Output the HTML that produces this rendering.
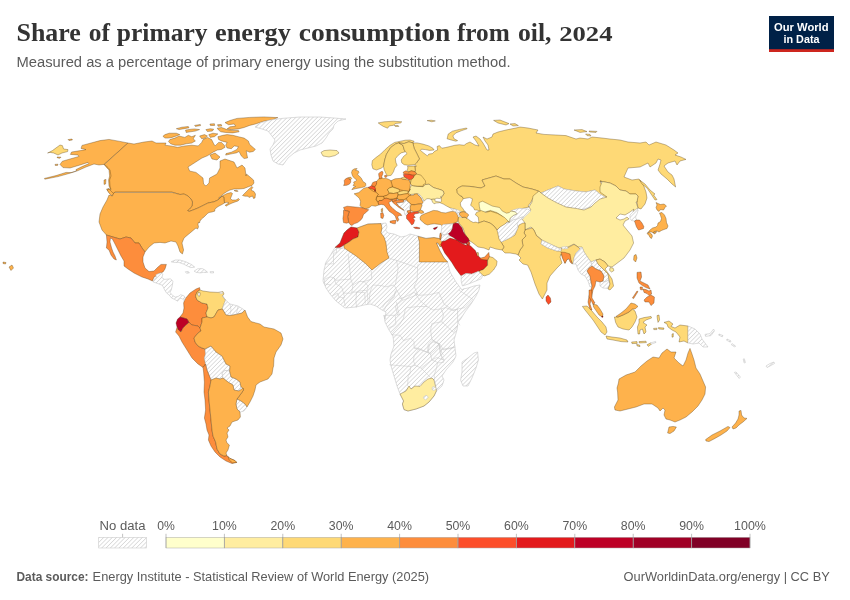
<!DOCTYPE html>
<html lang="en">
<head>
<meta charset="utf-8">
<title>Share of primary energy consumption from oil, 2024</title>
<style>
html,body{margin:0;padding:0;background:#fff;}
body{width:850px;height:600px;overflow:hidden;position:relative;font-family:"Liberation Sans",sans-serif;}
svg{position:absolute;left:0;top:0;display:block;}
.title{font-family:"Liberation Serif",serif;font-weight:bold;font-size:26px;fill:#333;}
.sub{font-size:14px;fill:#5b5b5b;}
.lg{font-size:12px;fill:#5b5b5b;}
.ft{font-size:13px;fill:#5b5b5b;}
.n{fill:url(#hatch);stroke:#c8c8c8;stroke-width:.5;stroke-linejoin:round;}
#map path{fill-rule:evenodd;stroke:rgba(70,45,10,.55);stroke-width:.6;stroke-linejoin:round;}
#map path.n{stroke:#c6c6c6;}
#map path.b{fill:none;stroke:#9a7a4a;stroke-width:.5;}
#map path.g{fill:none;stroke:#c6c6c6;stroke-width:.5;}
</style>
</head>
<body>
<svg width="850" height="600" viewBox="0 0 850 600">
<defs>
<pattern id="hatch" patternUnits="userSpaceOnUse" width="3.04" height="3.04" patternTransform="rotate(45)">
<rect width="3.04" height="3.04" fill="#fff"/>
<rect x="0" y="0" width="0.6" height="3.04" fill="#ccc"/>
</pattern>
</defs>
<rect width="850" height="600" fill="#fff"/>
<text class="title" y="40.5"><tspan x="16.5" textLength="64.3" lengthAdjust="spacingAndGlyphs">Share</tspan> <tspan x="88.8" textLength="21.2" lengthAdjust="spacingAndGlyphs">of</tspan> <tspan x="116.8" textLength="90.7" lengthAdjust="spacingAndGlyphs">primary</tspan> <tspan x="215.0" textLength="75.8" lengthAdjust="spacingAndGlyphs">energy</tspan> <tspan x="298.8" textLength="151.6" lengthAdjust="spacingAndGlyphs">consumption</tspan> <tspan x="456.9" textLength="52.9" lengthAdjust="spacingAndGlyphs">from</tspan> <tspan x="518.0" textLength="33.5" lengthAdjust="spacingAndGlyphs">oil,</tspan> <tspan x="559.2" textLength="53.3" lengthAdjust="spacingAndGlyphs" font-size="20">2024</tspan></text>
<text class="sub" x="16.5" y="66.5" textLength="494" lengthAdjust="spacingAndGlyphs">Measured as a percentage of primary energy using the substitution method.</text>
<g id="logo">
<rect x="769" y="16" width="65" height="36" fill="#002147"/>
<rect x="769" y="49.2" width="65" height="2.8" fill="#ce261e"/>
<text x="801.3" y="30.6" text-anchor="middle" font-weight="bold" font-size="11.3" fill="#fff" textLength="54.5" lengthAdjust="spacingAndGlyphs">Our World</text>
<text x="801.5" y="42.6" text-anchor="middle" font-weight="bold" font-size="11.3" fill="#fff" textLength="36" lengthAdjust="spacingAndGlyphs">in Data</text>
</g>
<g id="map">
<path fill="#feb24c" d="M128,143L120,141.4L109,139.4L100,140.6L91,143L82,145.4L81,148.4L86,149.6L80.4,150.6L71.6,152L70.4,154.4L78,155L79,156.4L70,159L62.4,161.2L60,164.4L63,167.6L70,168L80,165L88,162.4L89,163.6L82,166.6L76,169.6L76.4,171L71,172.6L66,172.4L56,175.6L44.4,178.4L44.8,179.2L58,176.6L70,173.2L78,170.6L86,167L94,164L99,165L104,164.4L107,168L109,170L109.6,176L108.6,180L109,186L110.4,189L112.4,190.4L112,187L111.6,182L114.4,177L114,170L112,167.6L108,166.4L104,164.4Z"/>
<path fill="#feb24c" d="M68,139.6L72,139L72.4,140L69,140.6Z"/>
<path fill="#feb24c" d="M57,157L61,157.2L60,158.2L57.6,158Z"/>
<path fill="#feb24c" d="M55,164.4L58,164.2L57.6,165.4L55.2,165.4Z"/>
<path fill="#fed976" d="M47.6,153L52.4,150.6L60,145L62.4,145.6L63.6,149L68,149.6L67.6,151.6L62,153L58,155L53.6,153L50,152.4Z"/>
<path fill="#feb24c" d="M128,143L134,144L144,142L152,141L156,143L166,143L165,145.2L170.6,145.9L177.7,147.3L184.8,145.9L191.8,145.2L198.2,145.9L201.7,142.4L203.1,139.5L207.4,137.4L211.6,139.5L213.7,143.8L215.1,145.9L218.6,142.4L221.5,142.4L224.3,145.2L225,147.3L221.5,149.4L217.2,150.1L213,152.2L207.4,155.8L202,158L188,167L189.6,171L196,172.4L203,178L203.6,184L206,186L209,183L209.6,178L217,174L220,168L220,161L225,159L234,162L237,168L242,165L245,168L246,176L246.5,174L250,177L253.5,180L254,183L252,185.5L249,186.5L244,188.5L239,189L234,189L230,190L227,191.5L224,193.5L221,196L218.5,198.2L220,197.7L223,195.5L227,193.5L231,192.5L232.5,193.5L231.5,196L230.5,198.5L232,200L236,200L238.5,198.5L239.5,199.5L238,201L235,202L231,203.5L228,205L226,206.2L225.2,205.2L227,204L229,203L227,202.2L224.5,203L224,200L223.8,197L222,196.2L220,198L218,200L214,201.8L208,203L203,205.5L198,208L193,210L189,211.5L187.5,210.5L189.5,209L192,206L192.5,202L191,199L188,196L184,194L180,194.5L172,192L115,192L113.6,194L110,193.6L107,190L108,188.4L111,189.6L110,186L109.6,180L111,176L110,170L108,167.6L104.4,164.4Z"/>
<path fill="#feb24c" d="M234,190.5L236.5,190.3L238.2,191.2L236,191.4Z"/>
<path fill="#feb24c" d="M106.6,189L109.6,189.6L113.6,193.6L112,196L109,193Z"/>
<path fill="#feb24c" d="M104,180L106,179.4L105.6,184L104,184.4Z"/>
<path fill="#feb24c" d="M242.5,195.5L246,192L249,189L252,186.5L252.8,187.5L251,190L254,191.5L255.5,194L255,198L253.5,198.5L252.5,196L250,197L249,197.5L248,196.2L245,196.2Z"/>
<path fill="#feb24c" d="M225,122.6L229.9,120.5L237,118.4L249.7,117.4L263.8,116.9L277.9,117.6L272.3,119.8L263.8,121.2L255.4,124L249.7,125.4L244.1,127.5L238.4,128.9L231.4,129.6L227.1,128.9L229.9,126.8L235.6,126.1L234.2,124L228.5,124.7Z"/>
<path fill="#feb24c" d="M217.2,128.2L221.5,127.5L227.1,129.6L232.8,130.4L238.4,130.4L239.1,131.8L232.8,132.9L225.7,132.5L220.8,131.8L218.6,130.1Z"/>
<path fill="#feb24c" d="M205.9,129.6L210.2,128.7L213.7,129.2L212.3,131.1L207.4,131.5Z"/>
<path fill="#feb24c" d="M209.9,124L214.4,123.7L214.7,125.4L210.5,125.6Z"/>
<path fill="#feb24c" d="M217.5,124.7L221.2,124.4L221.8,126.1L218.1,126.3Z"/>
<path fill="#feb24c" d="M185.5,130.1L191.1,129.2L194.6,128.9L199.6,129.6L195.4,131.1L190.4,131.8L186.2,132.5Z"/>
<path fill="#feb24c" d="M176.3,128.7L181.9,127.2L188.3,126.5L189,127.8L184.1,128.7L179.1,129.6Z"/>
<path fill="#feb24c" d="M194.6,125.4L200.3,124.4L200.6,125.6L195.4,126.4Z"/>
<path fill="#feb24c" d="M165,134.6L169.2,133.2L176.3,133.2L179.8,134.6L176.3,136L172.1,137.4L167.8,138.1L165,138.1L162.9,136.3Z"/>
<path fill="#feb24c" d="M169.9,139.5L174.9,138.1L179.1,136L184.8,137.4L188.3,135.3L191.8,136.7L195.4,135.3L193.2,138.8L195.4,140.9L191.8,143.1L186.2,143.8L180.5,145.2L174.9,145.2L170.6,143.8L168.5,141.6Z"/>
<path fill="#feb24c" d="M199.6,136L204.5,134.6L207.4,136L205.2,138.1L201.7,138.8Z"/>
<path fill="#feb24c" d="M208.8,134.6L213,133.2L217.9,133.9L214.4,136.7L210.2,137.4Z"/>
<path fill="#feb24c" d="M217.9,136.7L222.9,135.3L227.1,134.6L232.8,135.3L238.4,136.7L244.1,138.1L248.3,140.9L249.7,144.5L255.4,149.4L253.2,151.5L249.7,152.2L246.2,150.8L246.9,154.4L247.6,157.9L244.1,158.6L241.2,155.8L239.1,151.5L236.3,152.9L232.8,153.6L225.7,155.1L226,153.6L231.4,152.2L237,149.4L238.4,146.6L234.2,145.9L231.4,148.7L227.1,148L225.7,145.2L227.1,142.4L221.5,140.9L218.6,139.5Z"/>
<path fill="#feb24c" d="M210,155L215,153L220,157L217,160L212,159Z"/>
<path fill="#feb24c" d="M114,192.4L172,192.4L180,194.5L184,194L188,196L191,199L192.5,202L192,206L189.5,209L187.5,210.5L189,211.5L193,210L198,208L203,205.5L208,203L214,201.8L218,200L220,198L222,196.2L223.8,197L224,200L224.5,203L222,204.5L219,206L216,208L214.5,210L215,211L212,212L209,212.5L207.5,213.5L206,215L204,217L201.5,219L200,221L199.5,223L198.5,222L198,224.5L198.5,227L197.5,229L196,228L190,233L184,238L182,243L183.6,250L182.4,254L180,252L178,246L176,242L171,241L165,243L160,242.4L154,243L149,247L145,252L142,248L139,243L135,243L131,238L126,237L120,239L113,237L106.4,235L102,230L99,222L100,214L103,207L107,200L109,195L112.4,196Z"/>
<path fill="#fd8d3c" d="M106.4,235L113,237L120,239L126,237L131,238L135,243L139,243L142,248L145,252L143,257L143,262L145,268L149,271.6L154,271L158,267L161,264.4L166.4,264.4L165,269L163,272L160,273L158,274L156,276L154,277L152.4,281L148,279L142,277L134,273L128,269L124,266L124,261L121,256L118,250L115,244L112.4,239L110.4,238L110,242L111.6,248L113,252L115,256L116.4,260L114,259L111,255L109,250L106.4,248L107,242Z"/>
<path class="n" d="M255,127L260,123L270,120L282,118.4L300,117L320,117L334,118L346,119L338,121L334,125L333,129L329,133L326,138L322,143L316,146L308,148L300,150L294,153L288,158L283,165L278,164L273,161L271,155L270,149L273,145L275,140L272,136L268,131L262,129Z"/>
<path fill="#ffeda0" d="M321,152.4L324,150.6L330,150L337,150.6L339,153L335,155.6L329,157L323,156Z"/>
<path fill="#fd8d3c" d="M185,299L190,293L196,289L199.6,287.6L200,290L197,292L195.6,296L197,300L202,303L207,304L208,308L206,313L207,317L202,318L202,322L200,328L198,326L192,325L189,322.4L187,319L182,317.6L180,317L183,313L184,308L183.6,303Z"/>
<path fill="#fed976" d="M200,290L203,291L210,292L218,292.4L223,291.6L224,294L222.4,296L225.6,300L223.6,305L222.4,309L218,310L214,317L211,318L207,317L206,313L208,308L207,304L202,303L197,300L195.6,296L197,292ZM198.2,292.4L200.2,292.8L200,295.6L198.8,296.4L197.8,294.8Z"/>
<path fill="#bd0026" d="M180,317L182,317.6L187,319L189,322.4L186,325L183,328L181,332L178.4,330L177,327L176,323L177.6,319Z"/>
<path fill="#fd8d3c" d="M177,327.6L175.6,332L179,336L182,342L187,350L192,358L198,364L203,367.4L205.6,364L204.4,358L205.6,354L205,349L202,348L198,346L195,342L194,338L198,333L201,331L200,328L198,326L192,325L189,322.4L186,325L183,328L181,332L178.4,330Z"/>
<path class="n" d="M222.4,296L225.6,300L230,304L238,306L244.4,310L242,313L236,314.4L230,315.6L226,315L222.4,309L223.6,305L225.6,300Z"/>
<path class="n" d="M205,349L211,346L216,352L222,356L226,364L230,366L230,366L229.6,371L225,370.4L222,373L223,378L220,379L216,378L211,380L209,375L207,370L205.6,364L205.6,364L204.4,358L205.6,354Z"/>
<path class="n" d="M222,373L225,370.4L229.6,371L231,377L236,379L240,382L241,387L239,391L234,390L233,385L228,382L223,378Z"/>
<path class="n" d="M237,399L241,401L245,404L247,407L244,411L240,412L237,409L236,404Z"/>
<path fill="#feb24c" d="M202,318L207,317L211,318L214,317L218,310L222.4,309L226,315L230,315.6L236,314.4L242,313L245,310L247.6,317L251,321.6L260,324L264,327L274,329L281,333L283,339L281,345L276,352L274,358L273.6,366L273,368L272,374L268,379L260,382L256,385L255,390L253,396L250,402L247,407L245,404L241,401L237,399L240,395L243.6,390L243,388L241,387L240,382L236,379L231,377L229.6,371L230,366L230,366L226,364L222,356L216,352L211,346L205,349L202,348L198,346L195,342L194,338L198,333L201,331L200,328L202,322Z"/>
<path fill="#fd8d3c" d="M203,367.4L205.6,364L207,370L209,375L211,380L210,386L208.4,392L209,400L210,410L211,420L212,430L213,436L215.6,442L217,449L220,454L224,456L227,455.6L229,458L234,460L237,462.4L232,463.6L226,461L220,457L215,452L211,446L208.4,440L209,435L207,430L206,424L204.4,418L205.6,410L205,400L204,392L204.4,382L203.6,372Z"/>
<path fill="#feb24c" d="M211,380L216,378L220,379L223,378L228,382L233,385L234,390L239,391L243,388L243.6,390L240,395L237,399L236,404L237,409L240,412L240.4,417L238,420L232,422L230,426L227,428L229,430L227,433L228,437L226,440L227,443L229.4,445L228,450L226,453L227,455.6L224,456L220,454L217,449L215.6,442L213,436L212,430L211,420L210,410L209,400L208.4,392L210,386Z"/>
<path fill="#feb24c" d="M228,456.4L230,458.4L235,460.6L236.6,462.4L232.4,462.8L229.2,460Z"/>
<path class="n" d="M155.9,274.7L160.6,272.9L162.9,274.1L161.8,277.6L164.7,279.4L170.6,278.8L172.9,281.2L172.4,285.3L171.2,290L170,292.4L172.4,295.3L175.3,297.1L178.2,296.5L180.6,294.7L184.1,295.9L185.3,298.2L184.1,300.6L182.4,298.8L180,298.2L177.6,301.2L174.7,299.4L171.8,298.2L169.4,295.3L166.5,292.9L164.7,290L162.4,285.3L157.6,283.5L152.9,281.8L154.1,279.4L156.5,277.6Z"/>
<path class="n" d="M171.2,261.8L175.3,260L180,260L185.9,261.8L191.8,264.7L194.7,267.1L190.6,267.6L187.1,265.9L183.5,264.1L178.8,262.4L174.1,262.4Z"/>
<path class="n" d="M194.1,271.2L197.6,268.8L202.4,268.6L205.9,270.6L207.6,272.4L203.5,272.4L200,272.9L196.5,272.4Z"/>
<path class="n" d="M185.3,271.8L188.2,271.4L189.4,272.9L186.5,273.2Z"/>
<path class="n" d="M210,271.8L213.5,271.5L213.5,272.9L210.4,272.9Z"/>
<path class="n" d="M219.8,292.4L222.4,292L222.6,293.5L220,293.8Z"/>
<path class="n" d="M351,227L357,228L368,224L381,223.6L386,223L387,227L385.6,230L388,233L394,234L401,237L406,236L410,234L418,236L426,238.4L434,237.6L439.6,238.6L441.6,240L442.4,244.4L440.4,247L438,243L436.4,243L440,251L444,258L447.6,262L450,272L456,282L462,290L463,289L468,288L474,286L480,285L479,290L476,296L471,304L465,312L460,320L458,322L457,330L454,340L455,348L456,356L453,362L446,370L442,376L444,380L442,386L436.4,391L434,396L429,402L424,406L416,409L408,411L404,409.6L402.4,404L403.6,401L400,394L397,386L394,376L391,366L390,360L391,354L394,346L393,336L389,330L385,322L384,315L385,319L386,312L382,310L376,306L370,304L364,305L356,307L345,308L336,301L330,294L326,288L323,281L324,270L326,262L330,256L335,247.4L340,243L342,238L344,233L347,230Z"/>
<path class="n" d="M462,362L468,358L474,353L477.6,352L478.4,360L476,368L472,378L468,386L463,386L460.6,380L462,372Z"/>
<path fill="#e31a1c" d="M351,227L357,228L359,232L358,237L353,239L349,242L344,245L340,247.4L335,247.4L340,243L342,238L344,233L347,230Z"/>
<path fill="#feb24c" d="M357,228L368,224L381,223.6L382,228L381,233L384,237L386,243L387,252L389,258L381,263L372,270L366,264L356,256L344,248L344,245L349,242L353,239L358,237L359,232Z"/>
<path fill="#feb24c" d="M418,236.4L426,238.4L434,237.6L439.6,238.6L441.6,240L442.4,244.4L440.4,247L438,243L436.4,243L440,251L444,258L447.6,262L419.4,262L419.4,242Z"/>
<path fill="#ffeda0" d="M400,394L406,391L409,386L411,389L415,386L420,386.4L424,382L428,379L432,378L434,380L435.6,386L436.4,391L434,396L429,402L424,406L416,409L408,411L404,409.6L402.4,404L403.6,401Z"/>
<path class="n" d="M423,397.6L426,395.2L428.4,397L425.6,400Z"/>
<path class="n" d="M432,387.6L434,386.4L436,388.4L434.4,390.4L432.4,390Z"/>
<path fill="#feb24c" d="M363.5,192.1L375.3,183.8L391.8,181.5L405.9,180.3L410.6,188.5L410.6,195.6L416.5,209.7L410.6,209.7L405.9,200.3L396.5,199.1L387.1,200.3L378.8,203.8L369.4,205L363.5,200.3Z"/>
<path fill="#fed976" d="M412.9,142.9L417.1,142.9L422.9,144.1L428.8,145.9L432.9,148.2L434.1,150L429.4,150.4L425.3,149.6L421.5,149.2L420.4,150.4L423.9,153.2L427.4,155.9L428.8,154.1L432.4,153.6L434.9,151.1L437.6,150L437.1,146.5L439.4,145.6L441.8,148.2L445.3,147.6L450,146.5L454.7,145.3L459.4,144.7L464.1,145.3L466.5,143.5L470,142L475,145L479,146L476,141L473,137L476,136L480,139L483,143L487,150L489,150L488,145L485,141L483,137L487,139L492,137L493,134L498,132L506,130L516,128L520,127L528,128L538,130L536,133L544,134.4L556,135L566,135.6L576,139L580,138L588,139L592,137L602,138L610,139L620,140L628,142L640,143L646,142L649,145L656,142L666,145L674,150L678,153L675,155L681,157L686,159.4L680,161L677,165L675,161L668,163L664,166L668,172L672,175L674,179L675.6,187L672,184L667,179L661,174L658,170L660,164L661,160L658,159L656,163L650,167L648,163L640,167L628,168L624,177L632,180L639,179L643,184L646,192L647,198L645,204L641,209L638,208L637,202L638,196L636,194L630,194L626,191L620,190L616,186L610,183L600,181L607,198L600,194L595,190L586,192L576,191L564,189L558,186L548,190L541,193L538.4,191L532,189L523,187L516,183L510,179L504,179L496,176L489,178L482,180L485,186L481,188L470,186.4L462,186L458,188L456.9,189.2L457.3,192.7L459.4,195.2L462.2,196.6L463.3,198.7L462.2,200.5L460.3,202.9L460.8,206.1L462.6,208.2L464.4,211.1L465.8,212.1L462.2,211.8L459.4,212.8L458,211.1L456.6,209.6L453.8,208.9L450.2,207.9L446.7,206.1L443.2,204L440,202.7L441.1,201.5L441.4,200.5L441.1,198L442.5,195.9L443.9,193.8L443.5,191.3L441.1,189.9L437.5,188.8L434,187.8L431.2,186L429.1,184.2L425.2,184.6L423.1,186.7L416.5,186.2L410.6,183.8L409.4,179.1L408.8,175.3L408.8,167.1L416.5,166.1L414.7,164.5L416.5,162.9L419.4,158.8L417.1,154.1L414.1,148.2Z"/>
<path fill="#fed976" d="M447.1,138.8L448.2,134.1L452.4,131.2L459.4,129.4L466.5,128L467.1,128.8L461.8,130.6L455.9,132.9L452.9,135.9L454.1,138.8L457.6,140.6L455.9,141.2L451.2,140Z"/>
<path fill="#fed976" d="M493.6,120.4L500,120L509,123.6L506,125L498,123Z"/>
<path fill="#fed976" d="M510,124L515,123.6L518.4,125.6L513,126Z"/>
<path fill="#fed976" d="M574,130L582,129.6L587,131.6L580,132.4Z"/>
<path fill="#fed976" d="M589,131L597,131.4L596,132.4L589.6,132Z"/>
<path fill="#fed976" d="M585.6,134L590,134.4L591,136L587,135.6Z"/>
<path fill="#fed976" d="M639.6,180L645,184L650,190L655,194L653.6,195L657,199.6L655,200L651,194L647,188L642,184Z"/>
<path fill="#fed976" d="M427.1,120.6L431.2,120.2L435.3,120.9L431.8,121.8Z"/>
<path fill="#fed976" d="M401.2,177.9L404.2,176.9L406.7,178.3L405.8,179.6L402.1,179.2Z"/>
<path fill="#fed976" d="M372.9,168.8L376.5,170L381.2,168.2L383.5,166.5L384.7,160L386.5,154.1L390.6,147.6L395.3,144.1L398.8,142.9L404.1,143.5L408.8,141.8L412.9,142.9L414.1,141.2L410,140L405.3,140.2L400.6,141.2L394.7,142.4L390,145.3L385.3,149.4L380.6,154.1L375.9,157.6L372.4,160.6L371.8,164.7Z"/>
<path fill="#fed976" d="M383.5,166.5L384.1,169.4L385.9,173.5L387.6,175.9L391.2,175.3L393.5,171.8L394.7,168.2L397.1,165.3L395.9,162.4L395.3,158.8L398.2,155.3L401.2,152.9L405.3,151.8L404.1,149.4L402.9,145.3L398.8,142.9L395.3,144.1L390.6,147.6L386.5,154.1L384.7,160Z"/>
<path fill="#fed976" d="M398.8,142.9L404.1,143.5L408.8,141.8L412.9,142.9L414.1,148.2L417.1,154.1L419.4,158.8L416.5,162.9L414.7,164.5L408.2,165.3L404.1,164.7L401.8,162.9L401.2,160L403.5,156.5L407.1,153.5L405.3,151.8L404.1,149.4L402.9,145.3Z"/>
<path fill="#fed976" d="M378.2,122.9L384.1,121.8L393.5,121.2L401.8,121.8L400.6,122.9L395.3,123.5L393.5,125.3L389.4,125.9L387.6,128.2L383.5,126.5L380.6,124.7Z"/>
<path fill="#fed976" d="M394.1,125.3L398.2,125.5L398.8,126.5L395.3,126.5Z"/>
<path fill="#fd8d3c" d="M384.5,175.6L386.2,175.1L387.1,176.2L386.2,177.4L384.8,177.1Z"/>
<path fill="#fed976" d="M407.5,166.2L415,166L415.4,170.8L415,171.7L411.2,170.8L408.8,172.1L407.1,170.4L407.9,167.9Z"/>
<path fill="#fd8d3c" d="M403.3,172.1L405.8,170.8L408.8,172.1L411.2,170.8L415,171.7L416.7,173.8L415,175L412.1,175.2L409.2,174.3L405,174.2L403.3,173.3Z"/>
<path fill="#fc4e2a" d="M403.3,174.6L405,174.2L409.2,174.3L412.1,175.2L414.6,175.4L413.3,177.9L411.2,179.6L408.8,179.8L406.7,178.3L404.2,176.8Z"/>
<path fill="#ffeda0" d="M408.8,191.7L410,187.5L411.7,185.4L414.2,186L417.8,186.4L423.1,186.7L425.2,184.6L429.1,184.2L431.2,186L434,187.8L437.5,188.8L441.1,189.9L443.5,191.3L443.9,193.8L442.5,195.9L440.4,196.9L441.4,197.6L439.6,198.5L436.8,198.2L434.8,199.2L431.2,199.4L429.1,198.7L426.9,198.7L425.2,200.1L423.8,201.2L423.1,199.4L421.3,196.6L419.2,194.5L417.4,193.8L414.2,194.1L410,194.5L408.8,193.2L408.2,191.1L410.6,189.1Z"/>
<path fill="#ffeda0" d="M431.2,199.4L434.7,199.1L435.1,201.2L437.9,201.7L440,202L439.6,202.7L436.1,203L434,203.8L432.6,202.2L431.9,200.5Z"/>
<path fill="#fed976" d="M414.6,175.4L416.7,174.2L420.8,175L422.9,177.5L425.4,180.8L425.8,183.3L423.3,184.6L423.3,186.2L417.5,186.2L411.7,185.4L410.4,183.3L411.2,180L413.3,177.9Z"/>
<path class="n" d="M417.4,193.8L419.2,194.5L421.3,196.6L423.1,199.4L423.8,201.2L422.4,201.2L421.6,199.1L419.9,196.6L418.1,195.2Z"/>
<path fill="#feb24c" d="M390.8,180.8L395,178.8L401.2,178.3L402.1,179.2L405.8,179.6L408.8,179.8L410.4,183.3L410,187.5L408.8,191.7L405,190.8L400.8,190L397.9,188.8L392.5,186.7L391.2,183.3Z"/>
<path fill="#feb24c" d="M376.5,181.5L378,179.7L379.2,178.2L381.8,177.6L383.3,178.6L385.1,178.2L388,179L390.6,180.3L391.8,183.8L392.4,187L389.4,187.9L387.6,189.7L389.4,193.2L387.1,195.2L383.5,196.4L378.8,196.4L376.5,197L378.2,194.4L375.9,192.1L375.3,190.3L374.1,187.9L375.3,185.6L376.5,183.2Z"/>
<path fill="#fd8d3c" d="M378.6,173.8L379.8,172.4L382.1,171.2L383,172.1L382.7,174.4L381.8,176.2L381.8,178.4L379.6,178.9L378.9,176.2Z"/>
<path fill="#fed976" d="M387.6,189.7L389.4,187.9L392.4,187.1L395.3,188.1L398.8,189.2L400,191.4L397.6,192.6L393.5,193.5L390.6,192.8L389.4,193.2Z"/>
<path fill="#fed976" d="M397.6,192.6L400,191.4L403.5,190.6L408.2,191.1L407.6,193.5L404.1,194.1L400,194.9L398.2,194.6Z"/>
<path fill="#feb24c" d="M383.5,196.4L387.1,195.2L389.4,193.4L393.5,193.5L397.6,192.8L397.9,195.1L397.1,197.9L393.5,198.9L389.4,199.2L386.5,198.1L384.1,198.4Z"/>
<path fill="#feb24c" d="M376.5,197L378.8,196.4L383.5,196.4L384.1,198.4L382.1,200.5L379.4,200.5L377.9,202.4L376.5,199.7Z"/>
<path fill="#feb24c" d="M397.9,195.1L400,194.9L404.1,194.1L407.6,193.6L409.4,195.6L406.5,198.2L403.5,199.9L399.4,199.9L397.1,198.2Z"/>
<path class="n" d="M396.5,202.6L400,202.4L403.5,202.1L406.5,200.3L409.4,202.6L410.6,205.6L410,207.9L410.6,210.3L407.1,210.9L408.2,213.5L406.5,215.6L404.7,214.4L404.1,210.3L401.2,207.9L397.6,205Z"/>
<path fill="#feb24c" d="M406.5,198.2L409.4,195.6L414.1,195L414.2,194.1L417.4,193.8L418.1,195.2L419.9,196.6L421.6,199.1L422.4,201.2L423.1,201.9L422.7,203.3L421.6,203.6L418.5,204L414.2,204.7L411.8,204.6L409.4,202.6L407.1,200.9Z"/>
<path fill="#feb24c" d="M410.6,205.6L411.8,204.6L414.2,204.8L418.5,204.1L421.6,203.8L422.1,205.4L421.3,207.5L420.6,209.6L418.5,211.1L415.6,211.8L413.5,211.7L410.6,210.5L410,207.9Z"/>
<path fill="#fd8d3c" d="M407.1,210.9L410.4,210.3L411.2,212.6L408.2,213.5Z"/>
<path fill="#fc4e2a" d="M406.5,215.6L408.2,213.5L411.2,212.4L414.1,212.1L418.2,211.5L418.8,213.2L415.3,213.8L413.5,215L415.3,217.4L412.9,217.9L414.7,220.3L413.5,223.8L411.8,225L410,222.6L408.2,220.3L406.5,218.5Z"/>
<path fill="#fc4e2a" d="M413.5,227.4L416.5,227.1L420,227.9L419.4,228.8L415.3,228.5Z"/>
<path fill="#fd8d3c" d="M377.9,202.4L379.4,200.5L382.1,200.5L384.5,198.5L387.1,198.3L390,199.4L391.8,199.7L390.6,201.5L388.8,202.6L390,205.6L392.9,208.5L396.5,211.5L400.6,213.8L401.8,215.6L399.4,215.4L397.6,216.8L398.8,219.7L397.6,221.5L396.2,219.1L395.3,216.2L392.9,213.8L389.4,211.5L386.5,207.9L384.1,205L381.2,204.4L378.8,205Z"/>
<path fill="#fd8d3c" d="M390,221.2L392.9,220.5L396.2,220.3L395.3,223.8L392.9,223.6L390,222.4Z"/>
<path fill="#fd8d3c" d="M380.6,213.2L382.9,212.6L383.8,215.6L382.9,218.5L380.9,217.9Z"/>
<path fill="#feb24c" d="M381.2,209.1L382.6,208.3L382.6,211.5L381.4,212.1Z"/>
<path fill="#fd8d3c" d="M391.8,199.7L395.3,198.9L397.1,198.2L396.5,200.5L393.5,201.5L391.8,201.1Z"/>
<path fill="#fd8d3c" d="M391.8,201.1L393.5,201.5L396.5,200.5L399.4,199.9L403.5,199.9L403.5,202.1L400,202.4L396.5,202.6L397.6,205L401.2,207.9L404.1,210.3L402.4,209.7L398.8,207.4L395.9,205L393.5,203.2Z"/>
<path fill="#feb24c" d="M354.1,193.8L358.8,192.6L360.6,190.9L363.5,188.5L366.5,187.4L368.2,187.4L369.4,188.5L371.8,190.3L373.5,191.5L375.9,192.1L378.2,194.4L376.5,197L375.9,199.7L377.9,202.4L378.8,205L375.3,206.2L371.8,205.6L368.8,207.9L365.3,208.8L361.8,207.6L360,205.6L360.6,201.5L359.4,198.5L357.1,196.2Z"/>
<path fill="#fd8d3c" d="M343.5,207.4L347.1,206.2L352.9,206.8L359.4,207.4L361.8,207.7L365.3,208.8L368.8,209.7L366.5,212.1L363.5,214.4L362.4,217.9L360.6,220.3L357.6,222.6L354.1,223.8L351.8,225.6L350,224.4L348.8,222.6L347.6,216.8L349.2,211.5L344.7,210.3Z"/>
<path fill="#fd8d3c" d="M343.5,210.3L344.7,210.3L349.2,211.5L347.6,216.8L348.8,222.6L346.5,223.2L343.5,222.6L342.9,218.5L343.5,214.4Z"/>
<path fill="#fc4e2a" d="M368,187.4L370.1,186.5L371.5,185.5L373.3,186.3L374.5,186.6L375.6,188.5L375.1,190.3L373.3,189.4L371.2,188.8L369.5,188.2Z"/>
<path fill="#fd8d3c" d="M371.5,185.3L372.7,182.6L375.1,181.5L376.8,181.5L376.5,183.8L375.6,185.9L374.5,186.5L373.3,186.2Z"/>
<path fill="#bd0026" d="M374.4,190L375.4,189.7L375.6,191.2L374.8,191.4Z"/>
<path fill="#feb24c" d="M351.5,172.4L352.4,170L354.5,168.8L357.1,168.5L355.6,170.3L358.3,170.9L358.9,172.6L357.4,174.4L359.2,175.9L361.5,178.5L363,181.5L365.6,183.2L365.9,185.3L364.8,186.8L361.5,187.6L358,188.2L355.1,188.8L351.8,189.7L353.3,187.6L355.6,186.5L353,185.6L354.2,183.8L353.6,182.1L355.6,181.2L356.8,180L355.1,178.8L353,176.8L352.1,174.7Z"/>
<path fill="#feb24c" d="M348.6,177.6L350.6,177.1L351.8,178.5L350.6,179.7L349.2,179.4Z"/>
<path fill="#fd8d3c" d="M344.2,180.6L345.6,178.8L348.3,177.6L349.2,179.4L350.6,179.7L350.8,182.1L349.5,184.1L346.8,185.3L343.6,185.6L344.5,183.2Z"/>
<path fill="#fed976" d="M458,188L462,186L470,186.4L481,188L485,186L482,180L489,178L496,176L504,179L510,179L516,183L523,187L532,189L538.4,191L537,195L533,198L531,202L528,206L529,207L520,209L514,210L512,216L505,219L495,214.5L490,212L481,211.5L477,210L474.7,210L473.5,207.6L470.6,205.3L471.8,201.8L472.4,198.8L469.4,197.6L463.3,198.7L462.2,196.6L459.4,195.2L457.3,192.7L456.9,189.2Z"/>
<path class="n" d="M541,193L548,190L558,186L564,189L576,191L586,192L595,190L600,194L607,198L602,201L598,204L590,207L580,210L570,208L560,206L552,202L546,197Z"/>
<path fill="#ffeda0" d="M539,191L533,196L532,202L529,207L531,210L527,213L523,215L522,219L525,223L525,230L531,227L534,230L536,235L542,240L550,244L559,248L568,247L574,244L578,247L582,247L584,252L588,258L591,262L596,260L600,259L605,262L608,266L612,267L616,264L624,258L630,250L633.6,243L632,236L627,230L623,225L625,221L629,219L627,217L624,219L620,220L616,218L620,214L625,215L630,212L634,209L633,212L638,208L636,202L637,202L638,196L636,194L630,194L626,191L620,190L616,186L610,183L600,181L602,182L600,187L600,192L607,197L600,199L595,203L591,207L584,210L576,208.4L566,207L556,202.4L548,198L541,193Z"/>
<path fill="#ffeda0" d="M610,267.6L613,268L614,270.4L611.6,272L609.6,270.4Z"/>
<path fill="#feb24c" d="M634,255.6L636,254.4L637,258L635.6,262L633.6,260Z"/>
<path class="n" d="M630,215L633.5,211.5L636.5,209L638.2,210L637.2,213.5L635.5,217L636.5,220L634.5,221L631.5,220.5L630,218.5Z"/>
<path fill="#fd8d3c" d="M634.5,221L636.5,220L639.5,220L642,223L643.8,226.5L643.5,228.5L640.5,229.5L638.5,230L636.5,227L635.5,224Z"/>
<path fill="#feb24c" d="M656,202.5L658,203.5L660.5,204.5L664,204L666.5,206L665,207.5L663.5,210L660.5,209.5L659,211.5L657,210L656,207.5L657,205Z"/>
<path fill="#feb24c" d="M659.5,213L662,212.5L664.5,215L666,218.5L666.5,222.5L668,226L667,228.5L664,229.5L661.5,230.5L659,232L657,231L654.5,231.5L653.5,233L651.5,232L649.5,232L647.5,233L650,230L652.5,228L656,227L657.5,225.5L658,223L660.5,221.5L661.5,218.5L660.5,215.5Z"/>
<path fill="#feb24c" d="M647,233.5L649.5,232.5L651.5,234L652.5,236L651.5,238.5L650,237.5L649,235.5Z"/>
<path fill="#feb24c" d="M653.5,232L656.5,231.5L656,233L654,234Z"/>
<path fill="#fed976" d="M525,230L528,229L532.4,228L534.4,231L536.4,235.6L542,240.4L541,244L548,248L557,251L561,251L561.6,248L568,247.6L574,244.4L578,247L580,249L576,253L574,258L573,264L571,261L570,258L567,259L565,263L563,258L561,254L560,257L562,263L557,268L550,276L547,283L547,290L542.4,299L539,294L535,284L531,272L527.6,265L523,264L519,260L521,258L518,255L520,250L523,246L522,240L526,236L524,233Z"/>
<path class="n" d="M542,240.4L550,244L559,248.4L561,249L561,251L557,251L548,248L541,244Z"/>
<path class="n" d="M561.6,247L567,246.6L568,248.6L562.4,249Z"/>
<path fill="#fd8d3c" d="M561,252L565,252.4L570,254L571,260L572.4,264L570,262L569,259L567,259.6L565,263.6L562.4,258Z"/>
<path fill="#fc4e2a" d="M546,297L548,295L550.4,298L551,302L548.4,304.4L546,301Z"/>
<path class="n" d="M574,258L576,253L580,249L582,247L584,252L588,258L591,262L592,266L589,268L587,271L590,276L591,282L592,286L590,287L588,281L585,276L581,274L578,270L576,264L573,264Z"/>
<path class="n" d="M591,262L596,260L598,264L602,268L608,274L609,280L605,282L603,281L604,276L601,271L596,269L592,266Z"/>
<path class="n" d="M600,282L603,281L605,282L609,280L610,285L608,288.4L603,288L600,286Z"/>
<path fill="#fed976" d="M596,260L600,259L605,262L608,266L605,269L608,273L612,279L613.6,286L610,290L608,289L610,284L609,280L608,274L602,268L598,264Z"/>
<path fill="#fd8d3c" d="M587,271L589,268L592,266L596,269L601,271L604,276L603,281L600,282L596,281L595,286L593,290L591,300L590,304L592,310L590,310L588,302L589,296L592,286L591,282L590,276Z"/>
<path fill="#fed976" d="M502,250L504,247L501,242L508,239L515,235L517,230L519,225L523,223L525,223L525,230L524,233L526,236L522,240L523,246L520,250L518,255L516,254L510,253L505,253Z"/>
<path class="n" d="M496,228.8L499.5,226L503.8,223.8L509.4,222.4L513.7,219.6L517.2,218.9L522.2,216.8L523.9,218.2L519.3,220.3L517.2,223.8L517.9,228.1L515.1,233L512.3,236.6L506.6,239.4L500.9,242.3L498.1,239.4L496.7,233.8Z"/>
<path class="n" d="M510.1,218.2L513.7,215.3L517.2,213.9L515.1,211.8L510.8,211.1L513.7,209.7L519.3,208.3L527.8,209L530.7,211.1L527.8,213.9L523.9,217.5L522.2,216.8L517.2,218.9L513.7,219.6L509.4,222.4Z"/>
<path fill="#ffffcc" d="M479,202.6L482.5,201.2L486.8,203.3L492.4,206.1L499.5,207.5L502.3,211.1L506.6,213.2L509.4,212.5L510.8,211.1L515.1,211.8L517.2,213.9L513.7,215.3L510.1,218.2L509.4,222.4L505.9,220.3L502.3,216L496.7,212.5L490.3,210.4L483.9,212.5L480.4,211.1L479.4,206.8Z"/>
<path fill="#fed976" d="M476.5,212.4L481.2,210.6L485.9,212.4L490.6,211.2L497.6,213.5L504.7,217.6L508.8,221.8L507,222L505,224L500,227L497,230L494,226L490,223L484,221L478.5,223L478.8,221.2L478.2,217L475.3,214.7Z"/>
<path fill="#fed976" d="M457.9,220L458.3,217.5L460.4,216L462.1,217.5L465,217.1L466.7,218.3L468.3,219.2L470.8,221.2L473.3,222.5L475.8,222.1L478.5,223L484,221L490,223L494,226L497,230L498,234L499,239L501,242L504,247L502,250L496,249L490,247L489,250L484,248L478,247L473,243L470,241L468,239L465,234L463,228L459,223Z"/>
<path fill="#fed976" d="M582.4,306.4L587,306L592,311L597,317L602,322L606,327L607,332L605,335L601,332L597,326L593,320L589,315L585,310Z"/>
<path fill="#fed976" d="M606,336L612,337L620,338L627,340L628,342L621,341.6L613,340L607,339Z"/>
<path fill="#fed976" d="M631.6,342L637,341.6L637.2,343.4L632,343.6Z"/>
<path fill="#fed976" d="M639,341.6L646,341.2L646.4,342.6L639.4,343Z"/>
<path fill="#fed976" d="M636.6,344.4L639.6,345L640,346.6L637.2,346Z"/>
<path fill="#fed976" d="M647,344.8L650.4,343L651.6,344L648.4,346.4Z"/>
<path class="n" d="M650.4,343L655.6,341.4L656,342.4L651.6,344Z"/>
<path fill="#fed976" d="M614.4,317L618,317L623,315L629,312L632.4,309L635,311L637,317L635,322L632,327L629,330L623,329L618,327L615.6,322.4Z"/>
<path fill="#feb24c" d="M616,316.4L621,313L626,309L631,303L635,304L638,306.4L635,309L632.4,309L629,312L623,315L618,317Z"/>
<path fill="#fed976" d="M639,319L644,317.6L651,316.4L651.6,318L646,320L643,322.4L647,325L645,327L646,332L644,334L642.4,329L640,330L639.6,334L638,334L637.4,327L639,323Z"/>
<path fill="#fed976" d="M657,315.6L659,315L659.6,320L658,322.4L657.4,319Z"/>
<path fill="#fed976" d="M658.4,327.6L664,328L663.6,329.4L658.8,329Z"/>
<path fill="#fed976" d="M653.6,328.4L657,328.2L656.8,329.6L653.8,329.6Z"/>
<path fill="#fed976" d="M664,322.4L669,321L673,324L671,326.4L675,328L680,325L688,326L688,343L684,341L679,342L680,337L676,332L672,330L668,327L667,324Z"/>
<path fill="#fed976" d="M672,334L673.4,333.6L673.2,337L672,337.2Z"/>
<path class="n" d="M688,326L695,329L700,334L702,339L708,347L703,347L699,343L693,344L688,343Z"/>
<path class="n" d="M705,334.4L710,333.6L713.6,329L714.4,331L711,335.6L705.6,336.4Z"/>
<path class="n" d="M719,334L723,335.6L722.4,336.8L718.8,335.2Z"/>
<path class="n" d="M727,339L731,341L730.4,342.2L726.6,340.2Z"/>
<path class="n" d="M732,343.6L735.6,346L734.8,347L731.4,344.8Z"/>
<path fill="#feb24c" d="M593,304L597,305L600,309L603,314L602.4,317L599,315L595.6,310L593.6,307Z"/>
<path fill="#bd0026" d="M601.8,316L603,316L603,317.2L601.8,317.2Z"/>
<path fill="#fd8d3c" d="M589,290L591.6,290L592,298L595,303L593,304.4L591,300L589,297Z"/>
<path fill="#fd8d3c" d="M637,272.4L641,272L641.6,277L640,281L644,283L648,285L650,289L646,287.6L642.4,285.6L639,283L637,278Z"/>
<path fill="#fd8d3c" d="M643,289L646,289.6L649,291L651,290L651.6,294L649,295.6L647,293.6L644,292.4Z"/>
<path fill="#fd8d3c" d="M644,300L647,297L651,295L654.4,297L654,303L651,305.6L649,302L645,302Z"/>
<path fill="#fd8d3c" d="M632.4,298L637,291L638,291.6L633.6,298.6Z"/>
<path fill="#fd8d3c" d="M640,287L642.4,287L642.4,290L640.4,289.6Z"/>
<path fill="#feb24c" d="M619,379L626,375L635,372L641,366L647,361L653,357L659,358L662,353L667,349L671,352L676,352L674,358L679,363L683,366L686,360L688,353L690,348.4L692,354L694,360L696,368L700,374L703,381L705.6,387L705,394L702,400L698,406L692,412L686,417L680,420L675,422L670,420L666,419L664,415L665,410L663,408L660,411L658,408L652,404L644,404L636,407L628,409L620,411L615,410L614.4,407L618,400L617.6,392L617,388L618.4,383Z"/>
<path fill="#feb24c" d="M669,427L673,426.4L676.4,427L674,431L670,433.6L667.6,433Z"/>
<path fill="#feb24c" d="M739,411L741,410.4L741.6,415L744,418L747,418.4L743,422L739,425L736,428L733,429L732,427L735.6,423L738,419L739,415Z"/>
<path fill="#feb24c" d="M705.6,439.6L712,435L720,431L728,426.4L730,427.6L727,431L721,435L715,438.4L709,441.6L706,441Z"/>
<path class="n" d="M734.4,372.4L736,372L740.4,377L739.2,378.4Z"/>
<path class="n" d="M743.2,359L744.4,358.8L745.4,362.6L744.2,363Z"/>
<path fill="#feb24c" d="M9,267L12,265L13.5,268L11,270.5Z"/>
<path fill="#feb24c" d="M3,262L6,262.5L5.5,264L3,263.5Z"/>
<path fill="#feb24c" d="M420,217.5L421.2,215.4L424.6,213.8L429.2,212.1L433.3,210.4L437.5,210.8L441.7,212.5L445.8,212.9L450,211.7L454.2,211.2L456.2,212.9L457.5,215L458.3,217.5L457.9,220L457.5,221.7L455,222.9L451.7,223.8L446.7,224.2L443.3,224.6L441.7,225.8L440.8,224.6L437.5,224.2L434.2,223.8L430.8,224.2L427.5,225L424.6,223.8L422.5,221.7L420.4,220Z"/>
<path fill="#feb24c" d="M418.5,211.1L420.6,210L423.1,211.1L423.8,212.8L421.3,213.5L419.2,212.8Z"/>
<path class="n" d="M450.8,208.3L455,209.2L459.2,210.4L460.8,211.7L460,212.7L456.7,212.1L454.2,211.2L451.7,210Z"/>
<path class="n" d="M456.7,212.1L460,212.7L459.2,214.2L460.4,215.8L461.7,217.5L460,217.1L458.3,215.4L457.1,213.8Z"/>
<path fill="#feb24c" d="M460,212.5L463.3,211.7L466.7,212.9L468.8,215L467.5,216.7L466.7,218.3L465,217.1L462.1,217.5L460.4,215.8L459.2,214.2Z"/>
<path class="n" d="M441.7,225.8L443.3,224.6L446.7,224.2L451.7,223.8L453.3,223.8L452.9,225.4L452.5,228.3L450.8,231.7L448.3,233.8L445,235L442.5,234.2L441.2,231.7L441.7,228.3Z"/>
<path class="n" d="M441.5,235L445,235L448.3,233.8L450,235.8L446.7,238.3L445,240.8L442.5,241.7L440.8,240.4Z"/>
<path fill="#fd8d3c" d="M440,233.3L441,232.9L441.5,235L441,238.3L440.2,240L439.6,236.7Z"/>
<path fill="#bd0026" d="M433.3,228.3L435.4,227.5L437.5,226.8L436.7,228.3L435,229.6L433.8,229.3Z"/>
<path fill="#e31a1c" d="M440.6,244.7L442.4,241.2L445,241L450,238L457,240L463,244L467,245.6L465.9,242.4L470.6,245.9L475.3,250.6L477.6,255.3L481.2,258.8L487.6,260L487.6,265.3L483.5,269.4L478.8,271.2L471.8,274.1L465.9,273.5L461.2,275.9L458.8,272.9L455.3,268.2L451.8,262.4L448.2,257.6L444.7,252.9L442.4,248.2Z"/>
<path fill="#bd0026" d="M453.3,223.8L455.4,222.9L458.3,223.3L460,225.4L462.1,227.9L463.3,231.7L465.4,235L468.3,238.3L469.6,241.2L468.3,241.7L466.7,243.3L463.3,243.8L460,242.1L456.7,240L453.3,237.5L450,235.8L448.3,233.8L450.8,231.7L452.5,228.3L452.9,225.4Z"/>
<path fill="#fc4e2a" d="M467.5,242.1L469.2,241.7L470,243.3L469.3,245L467.9,244.6Z"/>
<path class="n" d="M461.2,275.9L465.9,273.5L471.8,274.1L478.8,271.2L482.9,275.3L481.2,278.8L475.3,281.2L468.2,284.1L462.4,285.9L461.2,281.2Z"/>
<path fill="#fed976" d="M487.6,260L489.4,256.5L492.9,257.6L497.1,261.2L496.5,265.3L493.5,270L489.4,274.1L484.7,275.9L482.9,275.3L478.8,271.2L483.5,269.4L487.6,265.3Z"/>
<path fill="#fd8d3c" d="M480,258.2L484.7,257.1L488.8,252.4L489.4,256.5L487.6,260L481.2,259.4Z"/>
<path fill="#fed976" d="M477.1,252.4L478.4,252.7L478.6,255.5L477.2,255.9Z"/>
<path class="n" d="M766,366L770,363.5L774,362L774.5,363.5L770,366L767,367.5Z"/>
<path class="g" d="M230,304L231,310L230,315.6M238,306L237,311L236,314.4M343.5,248.5L336.5,248.5L336.5,252.6L333.5,253.2L333.5,263.8L324.7,264.1M348.2,254.4L350.8,279.1L335.9,280.3L334.1,277.9L330,276.8L324.7,279.1M371.2,270.3L371.8,279.1L364.1,281.5L362.4,282.6M350.8,279.1L352.9,285L358.8,281.5L364.1,281.5L368.2,286.2L367.1,290.3L358.8,290.9L356.5,292.1L351.8,292.1L352.9,285.0M324.7,279.1L324.1,283.8L331.2,285.0M334.1,277.9L335.9,283.8L341.8,287.4L343.5,293.2L351.2,293.2L351.8,292.1M332.9,295.6L337.6,293.2L338.8,296.8L336.5,300.3M338.8,296.8L343.5,297.9L345.3,306.2M343.5,293.2L344.7,297.9M356.5,292.1L355.9,300.3L356.5,307.4M364.7,292.6L365.3,303.8M367.1,290.9L368.2,303.8M356.5,292.1L364.7,292.6M370,302.6L369.4,296.8L370.6,290.3L372.9,285L381.2,285.6L385.9,286.8L394.1,285L396.5,289.7L394.7,294.4L390.6,300.3L385.9,306.2L384.1,310.9M396.5,260.3L398.2,268.5L395.3,285.0M389.4,258.5L396.5,260.3L417.6,267.9L418.2,263.8M396.5,289.7L402.4,300.3L395.3,306.2L397.6,315.0M417.6,267.9L417.1,280.3L414.1,286.2L417.6,294.4L409.4,297.9L402.4,300.3M382.4,307.6L385.3,302.9L394.1,297.1L395.3,291.2M396.5,301.8L397.6,308.8L399.4,314.7L395.3,315.3L384.7,315.3M395.3,315.9L395.9,324.1L392.9,326.5L388.8,327.6M397.6,299.4L404.7,297.1L414.1,292.4L418.8,295.3L429.4,294.7L438.8,292.4M415.3,293.5L420,300.6L427.1,306.5L432.9,310L441.2,308.8M427.1,306.5L418.8,306.5L407.6,307.6L405.3,308.8L403.5,318.2L400,324.1L391.8,333.5M391.2,334.7L400,335.3L403.5,340.6L410.6,338.2L414.1,341.8L414.1,347.6L420,348.8L429.4,353.5M441.2,308.8L443.5,314.7L441.8,321.8L431.8,323.5L430.6,330L431.8,339.4L438.8,344.1L440,352.4L442.4,360.0M441.2,308.8L445.9,307.6L452.9,310.6L457.6,309.4L457.6,321.8L460,325.3M441.8,321.8L453.5,332.4L457.6,325.3M438.8,292.4L444.1,304.1L452.9,310L464.7,307.6L472.9,299.4L462.4,292.4L458.8,290.0M431.8,339.4L435.3,341.8L440,344.1L443.5,350L454.1,347.6M431.8,340.6L428.2,344.1L427.6,351.2L430.6,354.1L436.5,348.8L438.8,344.1M389.4,364.7L395.3,365.3L410.6,366.5L415.3,365.3M410.6,366.5L410,374.1L408.2,375.3L407.6,385.9M415.3,365.3L421.2,368.2L427.1,374.1L430.6,377.6M421.2,368.2L427.1,363.5L431.8,360.0M415.3,365.3L413.5,361.2L414.1,355.3L418.8,349.4L428.2,352.4L430.6,354.1L431.8,360L437.6,362.4L436.5,368.2L434.1,375.3L435.3,387.1M431.8,360L436.5,357.6L438.8,358.2L444.1,360L443.5,362.4L437.6,362.9M414.1,348.2L418.8,349.4M428.2,352.4L429.4,344.7L432.9,341.8L438.8,343.5L441.2,349.4L440.6,354.1L444.1,360.0M438.8,343.5L440,349.4L443.5,355.3M441.2,349.4L455.3,347.1"/>
<path class="b" d="M415,166L415.4,170.8L415,171.7L416.7,173.8"/>
</g>
<g id="legend">
<rect x="98.7" y="537.3" width="47.8" height="10.7" fill="url(#hatch)" stroke="#ccc" stroke-width=".6"/>
<text class="lg" x="122.5" y="529.5" text-anchor="middle" textLength="45.9" lengthAdjust="spacingAndGlyphs">No data</text>
<g stroke="#aaa" stroke-width=".5">
<rect x="166" y="537.3" width="58.4" height="10.7" fill="#ffffcc"/>
<rect x="224.4" y="537.3" width="58.4" height="10.7" fill="#ffeda0"/>
<rect x="282.8" y="537.3" width="58.4" height="10.7" fill="#fed976"/>
<rect x="341.2" y="537.3" width="58.4" height="10.7" fill="#feb24c"/>
<rect x="399.6" y="537.3" width="58.4" height="10.7" fill="#fd8d3c"/>
<rect x="458" y="537.3" width="58.4" height="10.7" fill="#fc4e2a"/>
<rect x="516.4" y="537.3" width="58.4" height="10.7" fill="#e31a1c"/>
<rect x="574.8" y="537.3" width="58.4" height="10.7" fill="#bd0026"/>
<rect x="633.2" y="537.3" width="58.4" height="10.7" fill="#a00026"/>
<rect x="691.6" y="537.3" width="58.4" height="10.7" fill="#800026"/>
</g>
<g stroke="#999" stroke-width=".6"><line x1="166.0" y1="533.8" x2="166.0" y2="548"/><line x1="224.4" y1="533.8" x2="224.4" y2="548"/><line x1="282.8" y1="533.8" x2="282.8" y2="548"/><line x1="341.2" y1="533.8" x2="341.2" y2="548"/><line x1="399.6" y1="533.8" x2="399.6" y2="548"/><line x1="458.0" y1="533.8" x2="458.0" y2="548"/><line x1="516.4" y1="533.8" x2="516.4" y2="548"/><line x1="574.8" y1="533.8" x2="574.8" y2="548"/><line x1="633.2" y1="533.8" x2="633.2" y2="548"/><line x1="691.6" y1="533.8" x2="691.6" y2="548"/><line x1="750.0" y1="533.8" x2="750.0" y2="548"/><line x1="122.6" y1="533.8" x2="122.6" y2="537.3"/></g>
<g class="lg" text-anchor="middle">
<text x="166" y="529.5" textLength="17.6" lengthAdjust="spacingAndGlyphs">0%</text><text x="224.4" y="529.5" textLength="24.7" lengthAdjust="spacingAndGlyphs">10%</text><text x="282.8" y="529.5" textLength="24.7" lengthAdjust="spacingAndGlyphs">20%</text><text x="341.2" y="529.5" textLength="24.7" lengthAdjust="spacingAndGlyphs">30%</text><text x="399.6" y="529.5" textLength="24.7" lengthAdjust="spacingAndGlyphs">40%</text><text x="458" y="529.5" textLength="24.7" lengthAdjust="spacingAndGlyphs">50%</text><text x="516.4" y="529.5" textLength="24.7" lengthAdjust="spacingAndGlyphs">60%</text><text x="574.8" y="529.5" textLength="24.7" lengthAdjust="spacingAndGlyphs">70%</text><text x="633.2" y="529.5" textLength="24.7" lengthAdjust="spacingAndGlyphs">80%</text><text x="691.6" y="529.5" textLength="24.7" lengthAdjust="spacingAndGlyphs">90%</text><text x="750" y="529.5" textLength="31.8" lengthAdjust="spacingAndGlyphs">100%</text>
</g>
</g>
<g id="footer">
<text class="ft" x="16.5" y="581.2" font-weight="bold" textLength="72" lengthAdjust="spacingAndGlyphs">Data source:</text>
<text class="ft" x="92.6" y="581.2" textLength="336.5" lengthAdjust="spacingAndGlyphs">Energy Institute - Statistical Review of World Energy (2025)</text>
<text class="ft" x="623.6" y="581.2" textLength="206.2" lengthAdjust="spacingAndGlyphs">OurWorldinData.org/energy | CC BY</text>
</g>
</svg>
</body>
</html>
